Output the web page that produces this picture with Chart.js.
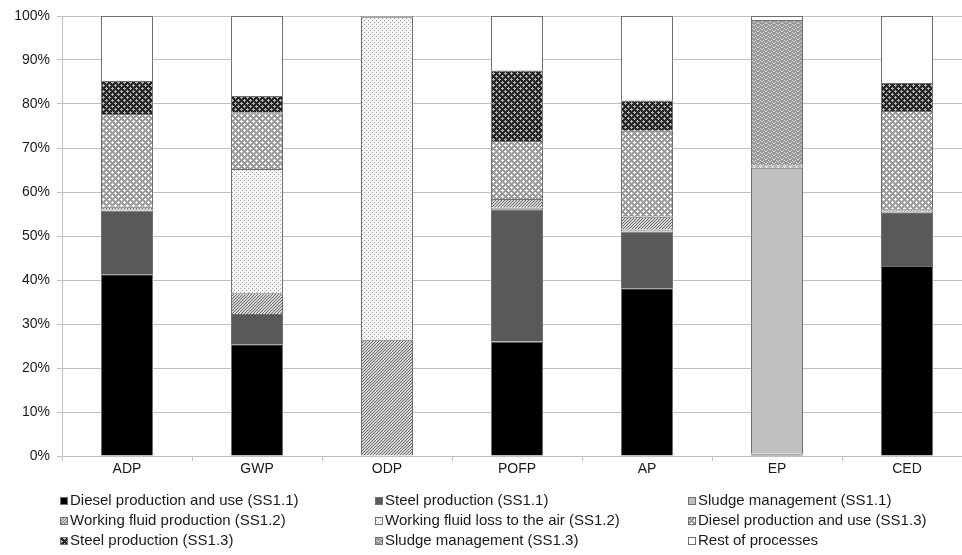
<!DOCTYPE html>
<html>
<head>
<meta charset="utf-8">
<script src="https://cdn.jsdelivr.net/npm/chart.js@4.4.1/dist/chart.umd.min.js"></script>
<style>
  html, body { margin: 0; padding: 0; background: #fff; }
  #wrap { width: 962px; height: 555px; overflow: hidden; }
</style>
</head>
<body>
<div id="wrap"><canvas id="impactChart" width="972" height="555"></canvas></div>
<script>
const categories = ['ADP', 'GWP', 'ODP', 'POFP', 'AP', 'EP', 'CED'];

// shares in %
const dieselSS11  = [41.3, 25.4, 0,    26.0, 38.1, 0.3,  43.2];
const steelSS11   = [14.45, 6.9, 0,    30.1, 12.9, 0.2,  12.0];
const sludgeSS11  = [0.3,  0,    0,    0.3,  0.5,  65.0, 0.3];
const wfProdSS12  = [0.6,  4.7,  26.4, 2.0,  2.9,  0,    0.6];
const wfLossSS12  = [0,    28.2, 73.3, 0,    0,    0,    0];
const dieselSS13  = [21.1, 12.9, 0,    13.2, 19.5, 0.5,  22.3];
const steelSS13   = [7.5,  3.7,  0,    16.0, 6.9,  0,    6.4];
const sludgeSS13  = [0,    0,    0,    0,    0,    33.1, 0];
const restOfProc  = [14.75, 18.2, 0.3, 12.4, 19.2, 0.9,  15.2];

const yTicks = [0, 10, 20, 30, 40, 50, 60, 70, 80, 90, 100];

// little tiles for the hatch fills
function makePattern(w, h, draw) {
    const c = document.createElement('canvas');
    c.width = w; c.height = h;
    const g = c.getContext('2d');
    draw(g);
    return g.createPattern(c, 'repeat');
}

const hatchDiag = makePattern(3, 3, g => {
    g.fillStyle = '#d4d4d4'; g.fillRect(0, 0, 3, 3);
    g.fillStyle = '#6e6e6e';
    for (let i = 0; i < 3; i++) g.fillRect(i, 2 - i, 1, 1);
});
const fineDots = makePattern(4, 4, g => {
    g.fillStyle = '#f5f5f5'; g.fillRect(0, 0, 4, 4);
    g.fillStyle = '#a8a8a8';
    g.fillRect(0, 0, 1, 1); g.fillRect(2, 2, 1, 1);
});
function diamonds(base, dot) {
    return makePattern(6, 6, g => {
        g.fillStyle = base; g.fillRect(0, 0, 6, 6);
        g.fillStyle = dot;
        [[1,0],[0,1],[1,1],[2,1],[1,2],[4,3],[3,4],[4,4],[5,4],[4,5]].forEach(p => g.fillRect(p[0], p[1], 1, 1));
    });
}
const lightCheck = diamonds('#9c9c9c', '#ffffff');
const darkCheck = diamonds('#262626', '#b4b4b4');
const woven = makePattern(8, 4, g => {
    g.fillStyle = '#999999'; g.fillRect(0, 0, 8, 4);
    g.fillStyle = '#d2d2d2';
    [[0,0],[1,1],[2,1],[3,0],[4,2],[5,3],[6,3],[7,2]].forEach(p => g.fillRect(p[0], p[1], 1, 1));
});

function series(label, data, fill) {
    return { label: label, data: data, backgroundColor: fill, borderColor: '#6f6f6f', borderWidth: 1 };
}

const datasets = [
    series('Diesel production and use (SS1.1)', dieselSS11, '#000000'),
    series('Steel production (SS1.1)', steelSS11, '#595959'),
    series('Sludge management (SS1.1)', sludgeSS11, '#bfbfbf'),
    series('Working fluid production (SS1.2)', wfProdSS12, hatchDiag),
    series('Working fluid loss to the air (SS1.2)', wfLossSS12, fineDots),
    series('Diesel production and use (SS1.3)', dieselSS13, lightCheck),
    series('Steel production (SS1.3)', steelSS13, darkCheck),
    series('Sludge management (SS1.3)', sludgeSS13, woven),
    series('Rest of processes', restOfProc, '#ffffff')
];

const FONT = "'Liberation Sans', Arial, sans-serif";

// legend drawn as a 3-column grid under the axis
const gridLegend = {
    id: 'gridLegend',
    afterDraw(chart) {
        const ctx = chart.ctx;
        const colX = [60, 375, 688];
        const rowY = [501, 521, 541];
        ctx.save();
        ctx.font = '15px ' + FONT;
        ctx.textBaseline = 'middle';
        ctx.textAlign = 'left';
        chart.data.datasets.forEach((ds, i) => {
            const x = colX[i % 3], y = rowY[Math.floor(i / 3)];
            ctx.fillStyle = ds.backgroundColor;
            ctx.fillRect(x, y - 4, 8, 8);
            ctx.strokeStyle = '#6f6f6f';
            ctx.lineWidth = 1;
            ctx.strokeRect(x + 0.5, y - 3.5, 7, 7);
            ctx.fillStyle = '#1a1a1a';
            ctx.fillText(ds.label, x + 10, y);
        });
        ctx.restore();
    }
};

new Chart(document.getElementById('impactChart'), {
    type: 'bar',
    data: { labels: categories, datasets: datasets },
    options: {
        responsive: false,
        animation: false,
        devicePixelRatio: 1,
        layout: { padding: { top: 16, right: 0, bottom: 70, left: 0 } },
        datasets: { bar: { categoryPercentage: 1, barPercentage: 0.4 } },
        plugins: { legend: { display: false }, tooltip: { enabled: false } },
        scales: {
            x: {
                stacked: true,
                afterFit(s) { s.height = 29; },
                grid: { offset: true, drawOnChartArea: false, color: '#bfbfbf', tickLength: 5 },
                border: { color: '#bfbfbf' },
                ticks: { padding: 0, color: '#1a1a1a', font: { family: FONT, size: 14 } }
            },
            y: {
                stacked: true,
                min: 0,
                max: 100,
                afterFit(s) { s.width = 62; },
                afterBuildTicks(s) { s.ticks = yTicks.map(v => ({ value: v })); },
                grid: { color: '#bfbfbf', tickLength: 5 },
                border: { color: '#bfbfbf' },
                ticks: {
                    padding: 7,
                    color: '#1a1a1a',
                    font: { family: FONT, size: 14 },
                    callback: v => v + '%'
                }
            }
        }
    },
    plugins: [gridLegend]
});
</script>
</body>
</html>
